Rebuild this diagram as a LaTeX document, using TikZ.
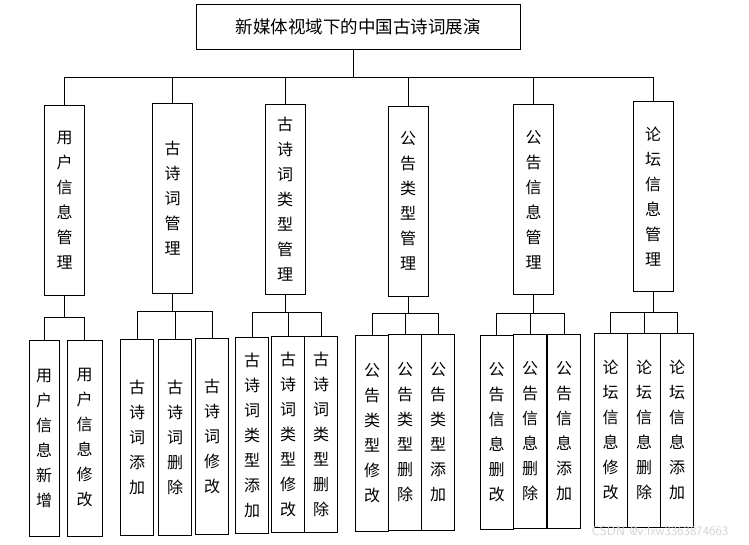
\documentclass[tikz,border=0pt]{standalone}
\usepackage{fontspec}
\newfontfamily\cjk{Noto Sans CJK SC}
\usetikzlibrary{positioning}

\begin{document}
\begin{tikzpicture}[
        x=1pt, y=-1pt,
        title/.style={draw, line width=1pt, minimum width=324pt, minimum height=45pt, font=\cjk\fontsize{17.5}{20}\selectfont},
        module/.style={draw, line width=1pt, minimum width=40pt, minimum height=190pt, inner sep=0pt, align=center, font=\cjk\fontsize{16}{25}\selectfont},
        func/.style={module, minimum width=33pt, minimum height=196pt},
        link/.style={line width=1pt}
    ]
        \useasboundingbox (0,0) rectangle (749,544);
        \node[title] (top) at (358,26.5) {新媒体视域下的中国古诗词展演};

        \node[module] (m1) at (64.5,200.5) {用\\户\\信\\息\\管\\理};
        \node[module] (m2) at (172.5,198.5) {古\\诗\\词\\管\\理};
        \node[module] (m3) at (285,199.5) {古\\诗\\词\\类\\型\\管\\理};
        \node[module] (m4) at (408,201) {公\\告\\类\\型\\管\\理};
        \node[module] (m5) at (533.5,199.5) {公\\告\\信\\息\\管\\理};
        \node[module] (m6) at (653,196.5) {论\\坛\\信\\息\\管\\理};

        \node[func, minimum width=30pt] (c11) at (44,438) {用\\户\\信\\息\\新\\增};
        \node[func, minimum width=35pt] (c12) at (84.5,438) {用\\户\\信\\息\\修\\改};
        \node[func] (c21) at (137,437.5) {古\\诗\\词\\添\\加};
        \node[func] (c22) at (175,437.5) {古\\诗\\词\\删\\除};
        \node[func] (c23) at (212,436) {古\\诗\\词\\修\\改};
        \node[func] (c31) at (252,435) {古\\诗\\词\\类\\型\\添\\加};
        \node[func] (c32) at (288,434) {古\\诗\\词\\类\\型\\修\\改};
        \node[func] (c33) at (321,434) {古\\诗\\词\\类\\型\\删\\除};
        \node[func] (c41) at (372,433) {公\\告\\类\\型\\修\\改};
        \node[func] (c42) at (405,432.5) {公\\告\\类\\型\\删\\除};
        \node[func] (c43) at (438,432.5) {公\\告\\类\\型\\添\\加};
        \node[func, minimum height=194pt] (c51) at (496.5,432) {公\\告\\信\\息\\删\\改};
        \node[func, minimum height=194pt] (c52) at (530,431.5) {公\\告\\信\\息\\删\\除};
        \node[func, minimum height=194pt] (c53) at (564,431) {公\\告\\信\\息\\添\\加};
        \node[func, minimum height=194pt] (c61) at (610.5,430) {论\\坛\\信\\息\\修\\改};
        \node[func, minimum height=194pt] (c62) at (644,430) {论\\坛\\信\\息\\删\\除};
        \node[func, minimum height=194pt] (c63) at (677,430) {论\\坛\\信\\息\\添\\加};

        \node[gray!35, font=\sffamily\fontsize{13}{15}\selectfont] (mark) at (660,531) {CSDN @v:lxw3363874663};

        % top level
        \coordinate (bus) at (353,77);
        \draw[link] (top.south -| bus) -- (bus);
        \draw[link] (m1.north |- bus) -- (m6.north |- bus);
        \draw[link] (m1.north) -- (m1.north |- bus);
        \draw[link] (m2.north) -- (m2.north |- bus);
        \draw[link] (m3.north) -- (m3.north |- bus);
        \draw[link] (m4.north) -- (m4.north |- bus);
        \draw[link] (m5.north) -- (m5.north |- bus);
        \draw[link] (m6.north) -- (m6.north |- bus);

        % second level
        \coordinate (sb1) at (0,317);
        \coordinate (sb2) at (0,311);
        \coordinate (sb3) at (0,312);
        \coordinate (sb4) at (0,313);
        \coordinate (sb5) at (0,313);
        \coordinate (sb6) at (0,312);
        \draw[link] (m1.south) -- (m1.south |- sb1);
        \draw[link] (c11.north) |- (c12.north |- sb1) -- (c12.north);
        \draw[link] (m2.south) -- (m2.south |- sb2);
        \draw[link] (c21.north) |- (c23.north |- sb2) -- (c23.north);
        \draw[link] (c22.north) -- (c22.north |- sb2);
        \draw[link] (m3.south) -- (m3.south |- sb3);
        \draw[link] (c31.north) |- (c33.north |- sb3) -- (c33.north);
        \draw[link] (c32.north) -- (c32.north |- sb3);
        \draw[link] (m4.south) -- (m4.south |- sb4);
        \draw[link] (c41.north) |- (c43.north |- sb4) -- (c43.north);
        \draw[link] (c42.north) -- (c42.north |- sb4);
        \draw[link] (m5.south) -- (m5.south |- sb5);
        \draw[link] (c51.north) |- (c53.north |- sb5) -- (c53.north);
        \draw[link] (c52.north) -- (c52.north |- sb5);
        \draw[link] (m6.south) -- (m6.south |- sb6);
        \draw[link] (c61.north) |- (c63.north |- sb6) -- (c63.north);
        \draw[link] (c62.north) -- (c62.north |- sb6);
    \end{tikzpicture}
\end{document}
